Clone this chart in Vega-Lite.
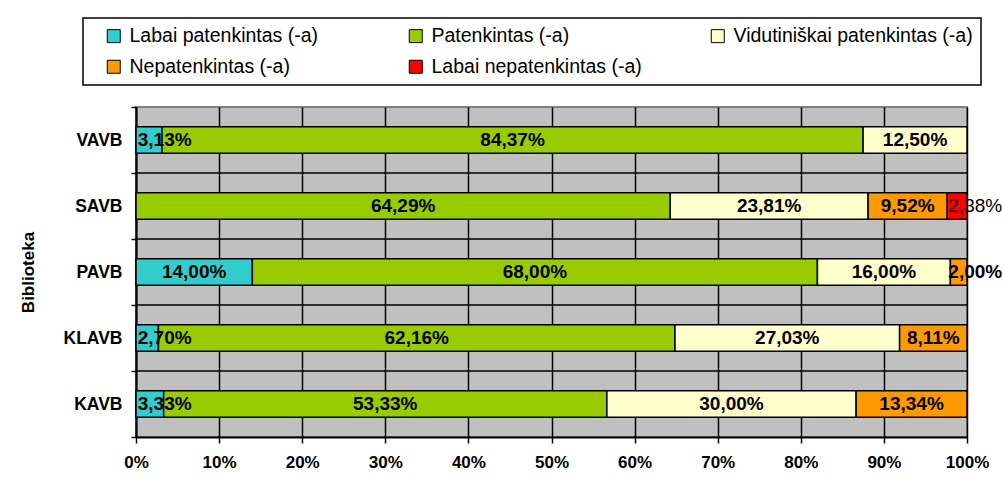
{
  "$schema": "https://vega.github.io/schema/vega-lite/v6.json",
  "width": 831,
  "height": 330,
  "autosize": {"type": "none"},
  "padding": {"left": 136, "top": 107, "right": 36, "bottom": 51},
  "background": "#ffffff",
  "config": {
    "font": "Liberation Sans",
    "view": {"fill": "#C0C0C0", "stroke": "#808080", "strokeWidth": 2},
    "axis": {
      "labelFont": "Liberation Sans",
      "titleFont": "Liberation Sans",
      "labelColor": "#000",
      "titleColor": "#000",
      "domainColor": "#000",
      "domainWidth": 2,
      "tickColor": "#000",
      "tickWidth": 1.5,
      "gridColor": "#000",
      "gridWidth": 1.5,
      "gridOpacity": 1
    },
    "legend": {
      "orient": "none",
      "legendX": -53,
      "legendY": -89,
      "direction": "horizontal",
      "columns": 3,
      "gridAlign": "all",
      "strokeColor": "#000",
      "strokeWidth": 1.5,
      "fillColor": "#ffffff",
      "padding": 8,
      "columnPadding": 24,
      "rowPadding": 10,
      "symbolOffset": 13,
      "symbolType": "square",
      "symbolSize": 169,
      "symbolStrokeColor": "#000",
      "symbolStrokeWidth": 1,
      "labelFont": "Liberation Sans",
      "labelFontSize": 19.5,
      "labelColor": "#000",
      "labelOffset": 6,
      "labelLimit": 0
    }
  },
  "data": {
    "values": [
      {"library": "VAVB", "category": "Labai patenkintas (-a)", "share": 3.13},
      {"library": "VAVB", "category": "Patenkintas (-a)", "share": 84.37},
      {"library": "VAVB", "category": "Vidutiniškai patenkintas (-a)", "share": 12.5},
      {"library": "SAVB", "category": "Patenkintas (-a)", "share": 64.29},
      {"library": "SAVB", "category": "Vidutiniškai patenkintas (-a)", "share": 23.81},
      {"library": "SAVB", "category": "Nepatenkintas (-a)", "share": 9.52},
      {"library": "SAVB", "category": "Labai nepatenkintas (-a)", "share": 2.38},
      {"library": "PAVB", "category": "Labai patenkintas (-a)", "share": 14.0},
      {"library": "PAVB", "category": "Patenkintas (-a)", "share": 68.0},
      {"library": "PAVB", "category": "Vidutiniškai patenkintas (-a)", "share": 16.0},
      {"library": "PAVB", "category": "Nepatenkintas (-a)", "share": 2.0},
      {"library": "KLAVB", "category": "Labai patenkintas (-a)", "share": 2.7},
      {"library": "KLAVB", "category": "Patenkintas (-a)", "share": 62.16},
      {"library": "KLAVB", "category": "Vidutiniškai patenkintas (-a)", "share": 27.03},
      {"library": "KLAVB", "category": "Nepatenkintas (-a)", "share": 8.11},
      {"library": "KAVB", "category": "Labai patenkintas (-a)", "share": 3.33},
      {"library": "KAVB", "category": "Patenkintas (-a)", "share": 53.33},
      {"library": "KAVB", "category": "Vidutiniškai patenkintas (-a)", "share": 30.0},
      {"library": "KAVB", "category": "Nepatenkintas (-a)", "share": 13.34}
    ]
  },
  "transform": [
    {"calculate": "indexof(['Labai patenkintas (-a)', 'Patenkintas (-a)', 'Vidutiniškai patenkintas (-a)', 'Nepatenkintas (-a)', 'Labai nepatenkintas (-a)'], datum.category)", "as": "order"},
    {"stack": "share", "groupby": ["library"], "sort": [{"field": "order", "order": "ascending"}], "as": ["start", "end"]},
    {"calculate": "(datum.start + datum.end) / 2", "as": "mid"},
    {"calculate": "datum.mid < 3.45 ? 3.45 : (datum.mid > 98 ? 101 : datum.mid)", "as": "labelPos"},
    {"calculate": "replace(format(datum.share, '.2f'), '.', ',') + '%'", "as": "label"}
  ],
  "encoding": {
    "y": {
      "field": "library",
      "type": "nominal",
      "sort": ["VAVB", "SAVB", "PAVB", "KLAVB", "KAVB"],
      "scale": {"paddingInner": 0, "paddingOuter": 0},
      "axis": {
        "title": "Biblioteka",
        "titleFontSize": 17,
        "titleFontWeight": "bold",
        "titlePadding": 26,
        "labelFontSize": 17.5,
        "labelFontWeight": "bold",
        "labelPadding": 9,
        "tickBand": "extent",
        "tickSize": 5,
        "grid": false
      }
    }
  },
  "layer": [
    {
      "transform": [
        {"filter": "datum.category === 'Patenkintas (-a)' && datum.library !== 'VAVB'"}
      ],
      "mark": {"type": "rule", "color": "#000", "strokeWidth": 1.5},
      "encoding": {
        "y": {"field": "library", "type": "nominal", "bandPosition": 0, "sort": ["VAVB", "SAVB", "PAVB", "KLAVB", "KAVB"]}
      }
    },
    {
      "mark": {"type": "bar", "stroke": "#000", "strokeWidth": 1.5, "height": {"band": 0.4}},
      "encoding": {
        "x": {
          "field": "start",
          "type": "quantitative",
          "scale": {"domain": [0, 100]},
          "axis": {
            "title": null,
            "values": [0, 10, 20, 30, 40, 50, 60, 70, 80, 90, 100],
            "labelExpr": "datum.value + '%'",
            "labelFontSize": 17,
            "labelFontWeight": "bold",
            "labelFlush": false,
            "labelPadding": 11,
            "tickSize": 6,
            "grid": true
          }
        },
        "x2": {"field": "end"},
        "fill": {
          "field": "category",
          "type": "nominal",
          "scale": {
            "domain": ["Labai patenkintas (-a)", "Patenkintas (-a)", "Vidutiniškai patenkintas (-a)", "Nepatenkintas (-a)", "Labai nepatenkintas (-a)"],
            "range": ["#33CCCC", "#99CC00", "#FFFFCC", "#FF9900", "#FF0000"]
          },
          "legend": {"title": null}
        }
      }
    },
    {
      "transform": [{"filter": "datum.category !== 'Labai nepatenkintas (-a)'"}],
      "mark": {"type": "text", "font": "Liberation Sans", "fontSize": 19, "fontWeight": "bold", "color": "#000", "align": "center", "baseline": "middle"},
      "encoding": {
        "x": {"field": "labelPos", "type": "quantitative"},
        "text": {"field": "label"}
      }
    },
    {
      "transform": [{"filter": "datum.category === 'Labai nepatenkintas (-a)'"}],
      "mark": {"type": "text", "font": "Liberation Sans", "fontSize": 19, "fontWeight": "normal", "color": "#000", "align": "center", "baseline": "middle"},
      "encoding": {
        "x": {"field": "labelPos", "type": "quantitative"},
        "text": {"field": "label"}
      }
    }
  ]
}
